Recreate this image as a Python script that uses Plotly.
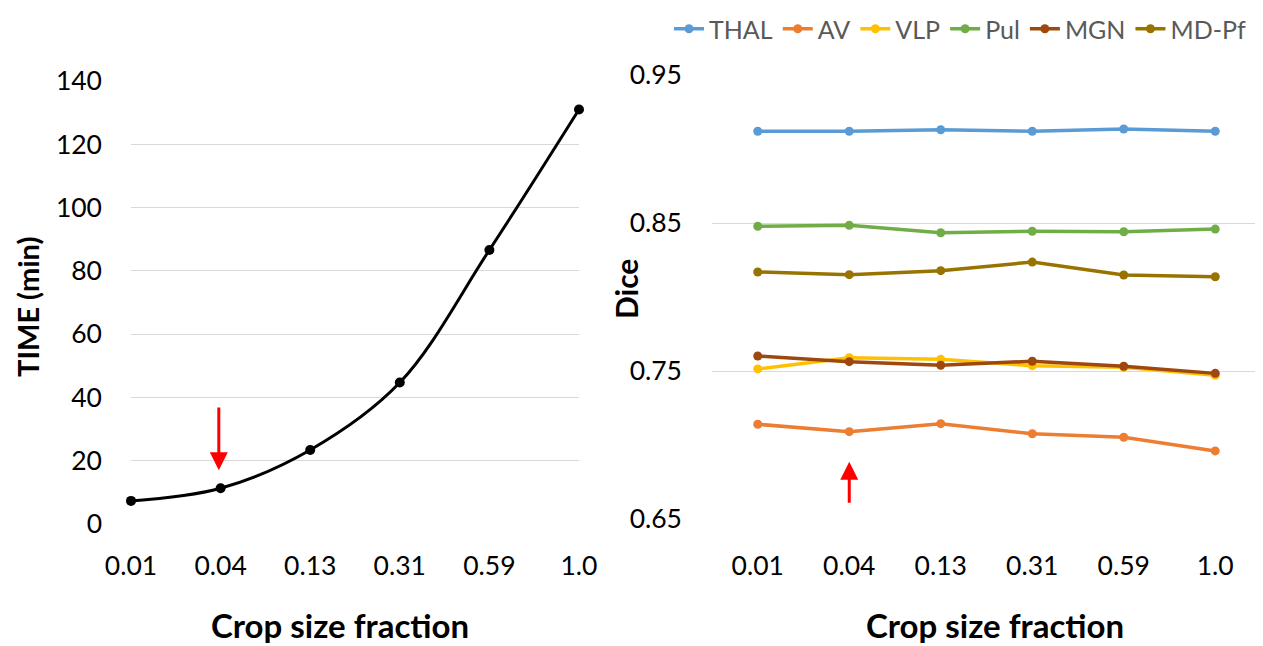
import plotly.graph_objects as go

categories = ["0.01", "0.04", "0.13", "0.31", "0.59", "1.0"]
time_min = [7.3, 11.3, 23.4, 44.7, 86.6, 131.0]
left_yticks = [0, 20, 40, 60, 80, 100, 120, 140]

series_names = ["THAL", "AV", "VLP", "Pul", "MGN", "MD-Pf"]
thal = [0.912, 0.912, 0.913, 0.912, 0.9135, 0.912]
av = [0.714, 0.709, 0.7144, 0.7076, 0.7052, 0.696]
vlp = [0.7514, 0.759, 0.7579, 0.7536, 0.7525, 0.7471]
pul = [0.8478, 0.8484, 0.8434, 0.8444, 0.8441, 0.8459]
mgn = [0.7601, 0.7563, 0.7539, 0.7566, 0.7532, 0.7484]
mdpf = [0.8169, 0.8151, 0.8178, 0.8236, 0.8149, 0.8137]
series_values = [thal, av, vlp, pul, mgn, mdpf]
series_colors = ["#5B9BD5", "#ED7D31", "#FFC000", "#70AD47", "#9E480E", "#997300"]
right_yticks = [0.65, 0.75, 0.85, 0.95]

# red arrows (category index, tail value, tip value)
left_arrow = (1, 37.3, 17.0)
right_arrow = (1, 0.6599, 0.6887)

FONT = "Lato"
OFF = 8  # page body margin
W, H = 1263 - OFF, 646 - OFF
idx = list(range(len(categories)))


def px(x):
    return (x - OFF) / W


def py(y):
    return 1 - (y - OFF) / H


fig = go.Figure()
fig.add_trace(go.Scatter(
    x=idx, y=time_min, mode="lines+markers", line=dict(color="black", width=3, shape="spline"),
    marker=dict(color="black", size=10), showlegend=False, cliponaxis=False,
    xaxis="x", yaxis="y"))

for name, vals, col in zip(series_names, series_values, series_colors):
    fig.add_trace(go.Scatter(
        x=idx, y=vals, mode="lines+markers", name=name,
        line=dict(color=col, width=3.5), marker=dict(color=col, size=9),
        cliponaxis=False, xaxis="x2", yaxis="y2"))

grid = "#D9D9D9"
TICK = 26.5
fig.update_layout(
    width=W, height=H, paper_bgcolor="white", plot_bgcolor="white",
    margin=dict(l=0, r=0, t=0, b=0, autoexpand=False),
    font=dict(family=FONT, size=TICK, color="black"),
    xaxis=dict(domain=[px(131), px(579)], range=[0, 5], tickmode="array", tickvals=idx,
               ticktext=categories, showgrid=False, zeroline=False, showline=False,
               ticks="", ticklabelstandoff=23, tickfont=dict(size=TICK), automargin=False),
    yaxis=dict(domain=[py(524), py(81)], range=[0, 140], tickmode="array",
               tickvals=left_yticks, showgrid=True, gridcolor=grid, gridwidth=1,
               zeroline=False, showline=False, ticks="", ticklabelstandoff=28,
               tickfont=dict(size=TICK), automargin=False),
    xaxis2=dict(domain=[px(712), px(1261)], range=[-0.5, 5.5], tickmode="array", tickvals=idx,
                ticktext=categories, showgrid=False, zeroline=False, showline=False,
                ticks="", ticklabelstandoff=28, tickfont=dict(size=TICK), anchor="y2",
                automargin=False),
    yaxis2=dict(domain=[py(519), py(75)], range=[0.65, 0.95], tickmode="array",
                tickvals=right_yticks, ticktext=["0.65", "0.75", "0.85", "0.95"],
                showgrid=True, gridcolor=grid, gridwidth=1, zeroline=False, showline=False,
                ticks="", ticklabelstandoff=29, tickfont=dict(size=TICK), anchor="x2",
                automargin=False),
    legend=dict(orientation="h", x=px(669), xanchor="left", y=py(6), yanchor="top",
                font=dict(size=25, color="#595959"), itemwidth=30, traceorder="normal",
                bgcolor="rgba(0,0,0,0)"),
)

annotations = [
    dict(text="<b>TIME (min)</b>", x=px(27), y=py(307), xref="paper", yref="paper",
         xanchor="center", yanchor="middle", textangle=-90, showarrow=False,
         font=dict(size=29)),
    dict(text="<b>Crop size fraction</b>", x=px(340), y=py(625), xref="paper", yref="paper",
         xanchor="center", yanchor="middle", showarrow=False, font=dict(size=33)),
    dict(text="<b>Dice</b>", x=px(626), y=py(289), xref="paper", yref="paper",
         xanchor="center", yanchor="middle", textangle=-90, showarrow=False,
         font=dict(size=30)),
    dict(text="<b>Crop size fraction</b>", x=px(995), y=py(625), xref="paper", yref="paper",
         xanchor="center", yanchor="middle", showarrow=False, font=dict(size=33)),
    dict(x=left_arrow[0] - 0.02, y=left_arrow[2], ax=left_arrow[0] - 0.02, ay=left_arrow[1],
         xref="x", yref="y", axref="x", ayref="y", text="", showarrow=True,
         arrowhead=2, arrowsize=1.2, arrowwidth=3, arrowcolor="#FF0000"),
    dict(x=right_arrow[0], y=right_arrow[2], ax=right_arrow[0], ay=right_arrow[1],
         xref="x2", yref="y2", axref="x2", ayref="y2", text="", showarrow=True,
         arrowhead=2, arrowsize=1.2, arrowwidth=3, arrowcolor="#FF0000"),
]
fig.update_layout(annotations=annotations)

fig.write_html("out.html")
